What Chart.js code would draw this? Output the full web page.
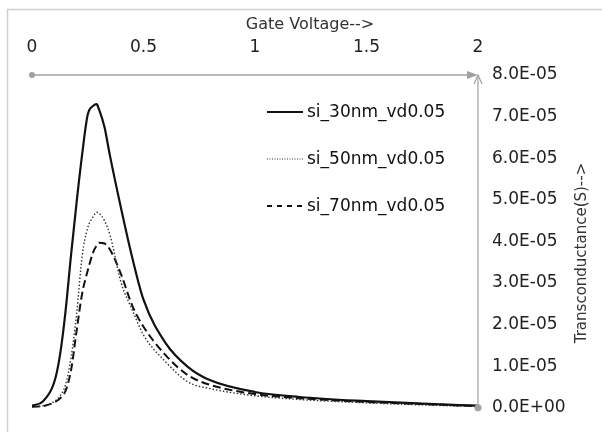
<!DOCTYPE html>
<html><head><meta charset="utf-8">
<script src="https://cdn.jsdelivr.net/npm/chart.js@4.4.1/dist/chart.umd.min.js"></script>
<style>html,body{margin:0;padding:0;background:#fff;overflow:hidden}#wrap{width:602px;height:432px}</style>
</head><body><div id="wrap"><canvas id="c" width="602" height="432"></canvas></div>
<script>
// Gate voltage (V) samples shared by all series
const gateVoltage = [0, 0.05, 0.1, 0.125, 0.15, 0.175, 0.2, 0.225, 0.25, 0.275, 0.29, 0.3, 0.325, 0.35, 0.4, 0.45, 0.5, 0.6, 0.7, 0.8, 1.0, 1.2, 1.5, 1.75, 2.0];
// Transconductance (S)
const si30nm = [0.05e-5, 0.16e-5, 0.62e-5, 1.25e-5, 2.3e-5, 3.67e-5, 4.94e-5, 6.1e-5, 7.05e-5, 7.26e-5, 7.3e-5, 7.18e-5, 6.75e-5, 6.05e-5, 4.78e-5, 3.6e-5, 2.6e-5, 1.55e-5, 0.98e-5, 0.66e-5, 0.38e-5, 0.26e-5, 0.16e-5, 0.1e-5, 0.05e-5];
const si50nm = [0.02e-5, 0.05e-5, 0.15e-5, 0.28e-5, 0.55e-5, 1.2e-5, 2.25e-5, 3.65e-5, 4.33e-5, 4.6e-5, 4.7e-5, 4.68e-5, 4.5e-5, 4.15e-5, 3.0e-5, 2.35e-5, 1.75e-5, 1.1e-5, 0.62e-5, 0.46e-5, 0.29e-5, 0.2e-5, 0.12e-5, 0.07e-5, 0.03e-5];
const si70nm = [0.02e-5, 0.04e-5, 0.13e-5, 0.22e-5, 0.4e-5, 0.9e-5, 1.85e-5, 2.75e-5, 3.3e-5, 3.75e-5, 3.9e-5, 3.97e-5, 3.95e-5, 3.8e-5, 3.2e-5, 2.45e-5, 1.95e-5, 1.26e-5, 0.78e-5, 0.55e-5, 0.33e-5, 0.23e-5, 0.14e-5, 0.09e-5, 0.04e-5];
const seriesLabels = ['si_30nm_vd0.05', 'si_50nm_vd0.05', 'si_70nm_vd0.05'];
const xTicks = [0, 0.5, 1, 1.5, 2];
const xTickLabels = ['0', '0.5', '1', '1.5', '2'];
const yTicks = [0, 1e-5, 2e-5, 3e-5, 4e-5, 5e-5, 6e-5, 7e-5, 8e-5];
const yTickLabels = ['0.0E+00', '1.0E-05', '2.0E-05', '3.0E-05', '4.0E-05', '5.0E-05', '6.0E-05', '7.0E-05', '8.0E-05'];
const xTitle = 'Gate Voltage-->';
const yTitle = 'Transconductance(S)-->';

const FONT = '"DejaVu Sans", "Liberation Sans", sans-serif';
const toPts = ys => gateVoltage.map((v, i) => ({x: v, y: ys[i]}));

const deco = {
  id: 'deco',
  afterDraw(chart) {
    const {ctx, scales: {x, y}} = chart;
    ctx.save();
    // chart border (top/left visible)
    ctx.strokeStyle = '#cfcfcf'; ctx.lineWidth = 1.5;
    ctx.beginPath(); ctx.moveTo(7.5, 440); ctx.lineTo(7.5, 9.5); ctx.lineTo(620, 9.5); ctx.stroke();

    const x0 = x.getPixelForValue(xTicks[0]);
    const x1 = x.getPixelForValue(xTicks[xTicks.length - 1]);
    const yT = y.getPixelForValue(yTicks[yTicks.length - 1]);
    const yB = y.getPixelForValue(yTicks[0]);
    ctx.strokeStyle = '#a0a0a0'; ctx.fillStyle = '#a0a0a0'; ctx.lineWidth = 1.5;
    // x axis line with arrow
    ctx.beginPath(); ctx.moveTo(x0, yT); ctx.lineTo(x1 - 4, yT); ctx.stroke();
    ctx.beginPath(); ctx.moveTo(x1, yT); ctx.lineTo(x1 - 11, yT - 4); ctx.lineTo(x1 - 11, yT + 4); ctx.closePath(); ctx.fill();
    // y axis line with arrow
    ctx.lineWidth = 1.2;
    ctx.beginPath(); ctx.moveTo(x1, yB); ctx.lineTo(x1, yT); ctx.stroke();
    ctx.beginPath(); ctx.moveTo(x1 - 4, yT + 9); ctx.lineTo(x1, yT); ctx.lineTo(x1 + 4, yT + 9); ctx.stroke();
    // end dots
    ctx.beginPath(); ctx.arc(x0, yT, 3, 0, Math.PI * 2); ctx.fill();
    ctx.beginPath(); ctx.arc(x1, yB, 3.5, 0, Math.PI * 2); ctx.fill();

    // x title
    ctx.fillStyle = '#333'; ctx.font = '16px ' + FONT;
    ctx.textAlign = 'center'; ctx.textBaseline = 'middle';
    ctx.fillText(xTitle, 310, 25);
    // y title (reads bottom to top)
    ctx.save();
    ctx.translate(582, 253); ctx.rotate(-Math.PI / 2);
    ctx.font = '15px ' + FONT;
    ctx.fillText(yTitle, 0, 0);
    ctx.restore();

    // legend
    const rows = [112, 159, 206];
    ctx.textAlign = 'left'; ctx.font = '17px ' + FONT; 
    chart.data.datasets.forEach((ds, i) => {
      const ry = rows[i];
      ctx.strokeStyle = ds.borderColor; ctx.lineWidth = ds.legendWidth;
      ctx.setLineDash(ds.legendDash);
      ctx.beginPath(); ctx.moveTo(267, ry); ctx.lineTo(303, ry); ctx.stroke();
      ctx.setLineDash([]);
      ctx.fillStyle = '#111';
      ctx.fillText(ds.label, 307, ry + 1);
    });
    ctx.restore();
  }
};

new Chart(document.getElementById('c'), {
  type: 'line',
  data: {
    datasets: [
      {label: seriesLabels[0], data: toPts(si30nm), borderColor: '#111', borderWidth: 2.2, borderDash: [], legendDash: [], legendWidth: 2.2},
      {label: seriesLabels[1], data: toPts(si50nm), borderColor: '#333', borderWidth: 1.4, borderDash: [1.5, 2], legendDash: [1, 1.5], legendWidth: 1},
      {label: seriesLabels[2], data: toPts(si70nm), borderColor: '#111', borderWidth: 2, borderDash: [8, 4], legendDash: [5, 5], legendWidth: 2}
    ]
  },
  options: {
    responsive: false, animation: false, devicePixelRatio: 1,
    layout: {padding: {left: 32, right: 0, top: 0, bottom: 13}},
    elements: {point: {radius: 0}, line: {cubicInterpolationMode: 'monotone', fill: false}},
    plugins: {legend: {display: false}, tooltip: {enabled: false}, title: {display: false}},
    scales: {
      x: {
        type: 'linear', position: 'top', min: 0, max: 2,
        afterBuildTicks: s => { s.ticks = xTicks.map(v => ({value: v})); },
        ticks: {callback: (v, i) => xTickLabels[i], color: '#222', font: {family: FONT, size: 17}, padding: 17, maxRotation: 0, autoSkip: false},
        grid: {display: false, drawTicks: false}, border: {display: false},
        afterFit: s => { s.height = 75; }
      },
      y: {
        type: 'linear', position: 'right', min: 0, max: 8e-5,
        afterBuildTicks: s => { s.ticks = yTicks.map(v => ({value: v})); },
        ticks: {callback: (v, i) => yTickLabels[i], color: '#222', font: {family: FONT, size: 17}, padding: 14, autoSkip: false},
        grid: {display: false, drawTicks: false}, border: {display: false},
        afterFit: s => { s.width = 124; }
      }
    }
  },
  plugins: [deco]
});
</script>
</body></html>
